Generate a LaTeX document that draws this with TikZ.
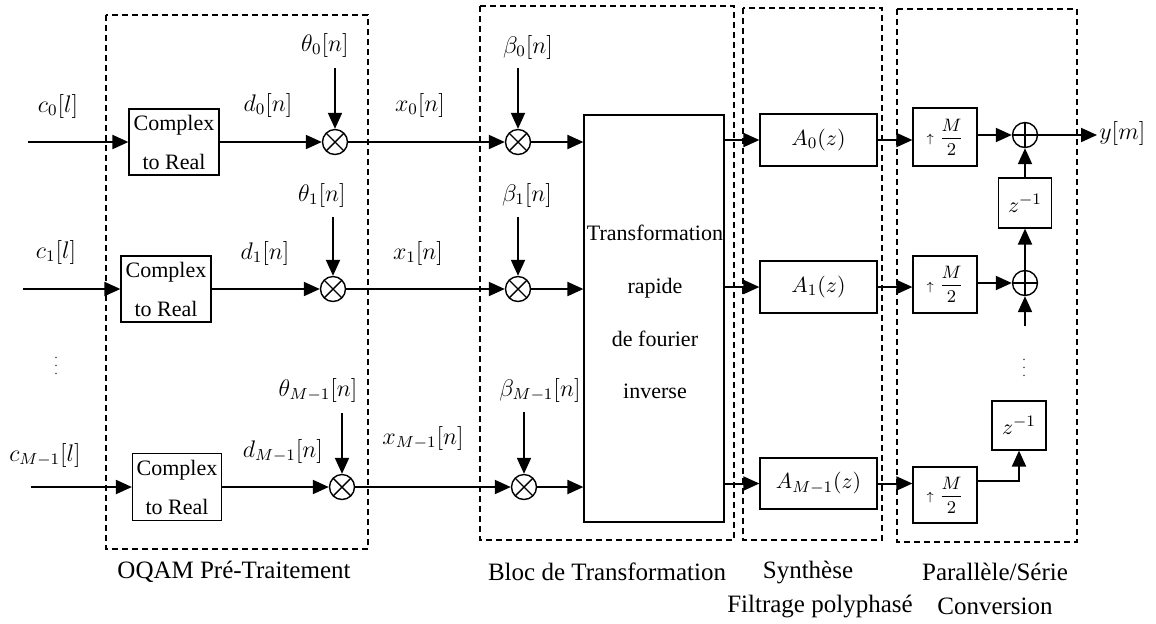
\documentclass[tikz,border=0pt]{standalone}
\usepackage{fontspec}
\setmainfont{Liberation Serif}
\usetikzlibrary{arrows.meta}
\begin{document}
\begin{tikzpicture}[x=0.5pt,y=-0.5pt,
  arr/.style={line width=1pt,-{Triangle[length=8pt,width=7pt]}},
  frame/.style={line width=0.6pt,dash pattern=on 3pt off 2pt},
  blk/.style={draw,line width=0.6pt,inner sep=0pt,align=center,font=\fontsize{11}{19.5}\selectfont},
  upblk/.style={draw,line width=0.6pt,inner sep=0pt,minimum width=32pt,font=\fontsize{9}{10}\selectfont},
  lbl/.style={inner sep=0pt,font=\fontsize{11.5}{13}\selectfont},
  grp/.style={inner sep=0pt,font=\fontsize{12.5}{14}\selectfont},
  mult/.style={circle,draw,line width=0.7pt,minimum size=12.5pt,inner sep=0pt,
    path picture={\draw[line width=0.7pt] (path picture bounding box.south west) -- (path picture bounding box.north east)
      (path picture bounding box.north west) -- (path picture bounding box.south east);}},
  summ/.style={circle,draw,line width=0.7pt,minimum size=12.5pt,inner sep=0pt,
    path picture={\draw[line width=0.7pt] (path picture bounding box.west) -- (path picture bounding box.east)
      (path picture bounding box.north) -- (path picture bounding box.south);}}]
\useasboundingbox (0,0) rectangle (1156,623);

% group frames
\draw[frame] (106,15) rectangle (368,549);
\draw[frame] (480,6) rectangle (734,540);
\draw[frame] (743,8) rectangle (882,540);
\draw[frame] (897,9) rectangle (1077,542);

% OQAM pre-processing
\node[blk,minimum width=45pt,minimum height=33pt] (c2r0) at (174,142) {Complex\\to Real};
\node[blk,minimum width=45pt,minimum height=33pt] (c2r1) at (166,289) {Complex\\to Real};
\node[blk,minimum width=44.5pt,minimum height=33.5pt] (c2r2) at (177,487) {Complex\\to Real};

\coordinate (in0) at (28,142);
\coordinate (in1) at (23,289);
\coordinate (in2) at (31,487);
\draw[arr] (in0) -- (c2r0.west);
\draw[arr] (in1) -- (c2r1.west);
\draw[arr] (in2) -- (c2r2.west);

\node[lbl] (lc0) at (58,106) {$c_0[l]$};
\node[lbl] (lc1) at (56,252) {$c_1[l]$};
\node[lbl] (lc2) at (45,455) {$c_{M-1}[l]$};
\node[inner sep=0pt,font=\fontsize{6}{7}\selectfont] (vd0) at (56,360) {$\vdots$};

\node[mult] (m0) at (335,142) {};
\node[mult] (m1) at (333,289) {};
\node[mult] (m2) at (342,487) {};
\draw[arr] (c2r0.east) -- (m0.west);
\draw[arr] (c2r1.east) -- (m1.west);
\draw[arr] (c2r2.east) -- (m2.west);
\node[lbl] (ld0) at (268,105) {$d_0[n]$};
\node[lbl] (ld1) at (265,253) {$d_1[n]$};
\node[lbl] (ld2) at (283,451) {$d_{M-1}[n]$};

\coordinate (t0) at (335,68);
\coordinate (t1) at (333,217);
\coordinate (t2) at (342,413);
\draw[arr] (t0) -- (m0.north);
\draw[arr] (t1) -- (m1.north);
\draw[arr] (t2) -- (m2.north);
\node[lbl] (lt0) at (325,45) {$\theta_0[n]$};
\node[lbl] (lt1) at (322,195) {$\theta_1[n]$};
\node[lbl] (lt2) at (318,390) {$\theta_{M-1}[n]$};

% transformation block
\node[mult] (b0) at (518,142) {};
\node[mult] (b1) at (518,289) {};
\node[mult] (b2) at (524,487) {};
\draw[arr] (m0.east) -- (b0.west);
\draw[arr] (m1.east) -- (b1.west);
\draw[arr] (m2.east) -- (b2.west);
\node[lbl] (lx0) at (420,105) {$x_0[n]$};
\node[lbl] (lx1) at (418,253) {$x_1[n]$};
\node[lbl] (lx2) at (423,438) {$x_{M-1}[n]$};

\coordinate (s0) at (518,68);
\coordinate (s1) at (518,217);
\coordinate (s2) at (524,412);
\draw[arr] (s0) -- (b0.north);
\draw[arr] (s1) -- (b1.north);
\draw[arr] (s2) -- (b2.north);
\node[lbl] (lb0) at (528,47) {$\beta_0[n]$};
\node[lbl] (lb1) at (527,195) {$\beta_1[n]$};
\node[lbl] (lb2) at (540,390) {$\beta_{M-1}[n]$};

\node[draw,line width=0.6pt,minimum width=70pt,minimum height=203.5pt,inner sep=0pt] (ifft) at (654,318.5) {};
\node[inner sep=0pt,align=center,font=\fontsize{11}{26.4}\selectfont] (ifftt) at (655,312) {Transformation\\rapide\\de fourier\\inverse};
\draw[arr] (b0.east) -- (ifft.west |- b0.east);
\draw[arr] (b1.east) -- (ifft.west |- b1.east);
\draw[arr] (b2.east) -- (ifft.west |- b2.east);

% polyphase synthesis filters
\node[blk,minimum width=58.5pt,minimum height=26pt] (a0) at (818.5,140) {$A_0(z)$};
\node[blk,minimum width=58.5pt,minimum height=26pt] (a1) at (818.5,287) {$A_1(z)$};
\node[blk,minimum width=58.5pt,minimum height=25.5pt] (a2) at (818.5,483.5) {$A_{M-1}(z)$};
\draw[arr] (ifft.east |- a0.west) -- (a0.west);
\draw[arr] (ifft.east |- a1.west) -- (a1.west);
\draw[arr] (ifft.east |- a2.west) -- (a2.west);

% parallel to serial conversion
\node[upblk,minimum height=29pt] (u0) at (945,137) {$\scriptstyle\uparrow\displaystyle\frac{M}{2}$};
\node[upblk,minimum height=28.5pt] (u1) at (945,284.5) {$\scriptstyle\uparrow\displaystyle\frac{M}{2}$};
\node[upblk,minimum height=28pt] (u2) at (945,495) {$\scriptstyle\uparrow\displaystyle\frac{M}{2}$};
\draw[arr] (a0.east) -- (u0.west |- a0.east);
\draw[arr] (a1.east) -- (u1.west |- a1.east);
\draw[arr] (a2.east) -- (u2.west |- a2.east);

\node[summ] (p0) at (1025,135) {};
\node[summ] (p1) at (1025,283) {};
\draw[arr] (u0.east |- p0.west) -- (p0.west);
\draw[arr] (u1.east |- p1.west) -- (p1.west);

\coordinate (yo) at (1097,135);
\draw[arr] (p0.east) -- (yo);
\node[lbl,anchor=west] (ly) at (1099,133) {$y[m]$};

\node[blk,minimum width=26.5pt,minimum height=25pt] (z0) at (1025,203) {$z^{-1}$};
\node[blk,minimum width=27pt,minimum height=24.5pt] (z1) at (1019,425.5) {$z^{-1}$};
\draw[arr] (z0.north) -- (p0.south);
\draw[arr] (p1.north) -- (z0.south);
\coordinate (fb) at (1025,326);
\draw[arr] (fb) -- (p1.south);
\node[inner sep=0pt,font=\fontsize{6}{7}\selectfont] (vd1) at (1024,362) {$\vdots$};
\draw[arr] ([yshift=7pt]u2.east) -| (z1.south);

% group captions
\node[grp] (g1) at (234,572) {OQAM Pré-Traitement};
\node[grp] (g2) at (607,572) {Bloc de Transformation};
\node[grp] (g3) at (808,572) {Synthèse};
\node[grp] (g3b) at (820,606) {Filtrage polyphasé};
\node[grp] (g4) at (995,572) {Parallèle/Série};
\node[grp] (g4b) at (995,606) {Conversion};
\end{tikzpicture}
\end{document}
